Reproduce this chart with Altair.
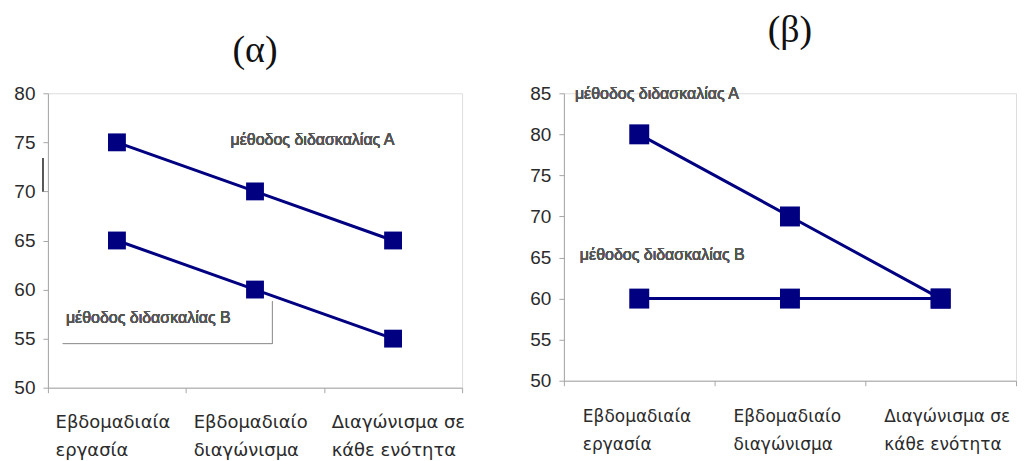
import altair as alt
import pandas as pd

categories = ["Εβδομαδιαία\nεργασία", "Εβδομαδιαίο\nδιαγώνισμα", "Διαγώνισμα σε\nκάθε ενότητα"]
series_names = ["μέθοδος διδασκαλίας Α", "μέθοδος διδασκαλίας Β"]
left_a = [75, 70, 65]
left_b = [65, 60, 55]
right_a = [80, 70, 60]
right_b = [60, 60, 60]
panel_titles = ["(α)", "(β)"]

NAVY = "#000080"
AXIS_GREY = "#a6a6a6"
TEXT = "#2b2b2b"
NARROW = "Liberation Sans Narrow, Liberation Sans, Arial, sans-serif"


def frame(a, b):
    rows = []
    for c, v in zip(categories, a):
        rows.append({"cat": c, "value": v, "series": series_names[0]})
    for c, v in zip(categories, b):
        rows.append({"cat": c, "value": v, "series": series_names[1]})
    return pd.DataFrame(rows)


def panel(a, b, ymin, ymax, width, height, title, title_offset, label_offset,
          label_padding, label_size, marker_size, notes, extras):
    df = frame(a, b)
    x = alt.X(
        "cat:N",
        sort=categories,
        bandPosition=0.5,
        scale=alt.Scale(type="band", paddingInner=0, paddingOuter=0),
        axis=alt.Axis(
            title=None,
            labelExpr="split(datum.label, '\\n')",
            labelAlign="left",
            labelOffset=label_offset,
            labelPadding=label_padding,
            labelLineHeight=28,
            labelFont="DejaVu Sans",
            labelFontSize=label_size,
            labelColor=TEXT,
            labelOverlap=False,
            labelBound=False,
            labelAngle=0,
            tickBand="extent",
            tickSize=5,
            tickColor=AXIS_GREY,
            domainColor=AXIS_GREY,
            grid=False,
        ),
    )
    y = alt.Y(
        "value:Q",
        scale=alt.Scale(domain=[ymin, ymax], zero=False, nice=False),
        axis=alt.Axis(
            title=None,
            values=list(range(ymin, ymax + 1, 5)),
            labelFont=NARROW,
            labelFontSize=19,
            labelColor=TEXT,
            labelPadding=8,
            tickSize=5,
            tickColor=AXIS_GREY,
            domainColor=AXIS_GREY,
            grid=False,
        ),
    )
    base = alt.Chart(df)
    lines = base.mark_line(color=NAVY, strokeWidth=3).encode(
        x=x, y=y, detail="series:N"
    )
    pts = base.mark_point(
        shape="square", filled=True, color=NAVY, size=marker_size, opacity=1
    ).encode(x=x, y=y)
    layers = [lines, pts]
    for text, px, val in notes:
        layers.append(
            alt.Chart(df).mark_text(
                align="left", baseline="middle", font=NARROW, fontSize=16,
                fontWeight="normal", color="#555555",
            ).encode(x=alt.value(px), y=alt.datum(val), text=alt.value(text))
        )
    layers.extend(extras)
    return alt.layer(*layers).properties(
        width=width,
        height=height,
        title=alt.TitleParams(
            title,
            font="Liberation Serif",
            fontSize=38,
            fontWeight="normal",
            color="#111111",
            offset=title_offset,
            anchor="middle",
        ),
    )


left_extras = [
    alt.Chart(frame(left_a, left_b)).mark_rule(color="#555555", strokeWidth=1).encode(
        x=alt.value(-5), y=alt.datum(73.4), y2=alt.datum(70.0)
    ),
    alt.Chart(frame(left_a, left_b)).mark_rule(color="#999999", strokeWidth=1).encode(
        x=alt.value(15), x2=alt.value(225), y=alt.datum(54.5)
    ),
    alt.Chart(frame(left_a, left_b)).mark_rule(color="#999999", strokeWidth=1).encode(
        x=alt.value(225), y=alt.datum(58.8), y2=alt.datum(54.5)
    ),
]

left = panel(
    left_a, left_b, 50, 80, 415, 295, panel_titles[0], 14, -62, 21, 18, 320,
    [(series_names[0], 183, 75.2), (series_names[1], 18, 57.1)],
    left_extras,
)
right = panel(
    right_a, right_b, 50, 85, 453, 288, panel_titles[1], 34, -57, 23, 17, 400,
    [(series_names[0], 11, 84.9), (series_names[1], 16, 65.3)],
    [],
)

chart = (
    alt.hconcat(left, right, spacing=63)
    .properties(padding={"left": 5, "top": 3, "right": 0, "bottom": 0})
    .configure_view(stroke=None)
    .configure(background="white")
)

chart.save("out.html", embed_options={"renderer": "svg", "actions": False})
